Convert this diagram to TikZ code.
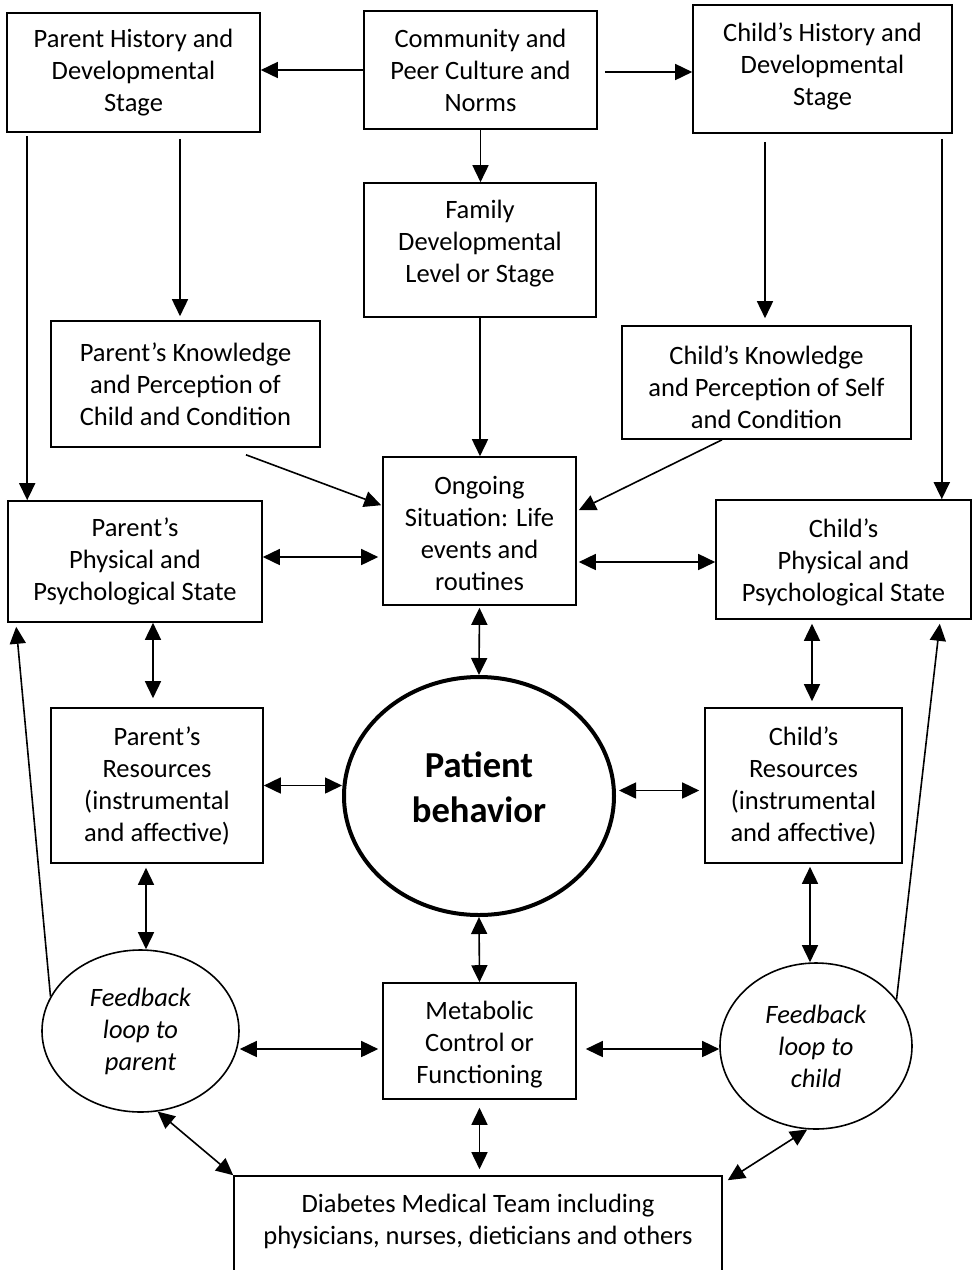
\documentclass[tikz,border=0pt]{standalone}
\usepackage{fontspec}
\setmainfont{Carlito}
\usetikzlibrary{shapes.geometric,arrows.meta,calc}
\begin{document}
\begin{tikzpicture}[x=1pt,y=-1pt,
 box/.style={draw,line width=1.6pt,rectangle,align=center,inner sep=0pt,font=\fontsize{26.5}{32}\selectfont},
 oval/.style={draw,line width=1.6pt,ellipse,align=center,inner sep=0pt,font=\fontsize{26.5}{32}\selectfont\itshape},
 txt/.style={align=center,inner sep=0pt,font=\fontsize{26.5}{32}\selectfont},
 tip/.style={Triangle[length=17pt,width=16pt]},
 arr/.style={line width=1.6pt,-{Triangle[length=17pt,width=16pt]}},
 dbl/.style={line width=1.6pt,{Triangle[length=17pt,width=16pt]}-{Triangle[length=17pt,width=16pt]}},
]
\path[use as bounding box,fill=white] (0,0) rectangle (972,1270);

\node[box,minimum width=253,minimum height=119] (ph) at (133.5,72.5) {Parent History and\\Developmental\\Stage};
\node[box,minimum width=233,minimum height=118] (cp) at (480.5,70) {Community and\\Peer Culture and\\Norms};
\node[box,minimum width=259,minimum height=128] (ch) at (822.5,69) {};
\node[txt] (cht) at (822.5,66) {Child’s History and\\Developmental\\Stage};
\node[box,minimum width=232,minimum height=134] (fd) at (480,250) {};
\node[txt] (fdt) at (480,243.5) {Family\\Developmental\\Level or Stage};
\node[box,minimum width=269,minimum height=126] (pk) at (185.5,384) {Parent’s Knowledge\\and Perception of\\Child and Condition};
\node[box,minimum width=289,minimum height=113] (ck) at (766.5,382.5) {};
\node[txt] (ckt) at (766.5,387) {Child’s Knowledge\\and Perception of Self\\and Condition};
\node[box,minimum width=193,minimum height=148] (os) at (479.5,531) {};
\node[txt] (ost) at (479.5,533.5) {Ongoing\\Situation: Life\\events and\\routines};
\node[box,minimum width=254,minimum height=121] (pp) at (135,561.5) {Parent’s\\Physical and\\Psychological State};
\node[box,minimum width=255,minimum height=119] (cps) at (843.5,559.5) {};
\node[txt] (cpst) at (843.5,562) {Child’s\\Physical and\\Psychological State};
\node[box,minimum width=212,minimum height=155] (pr) at (157,785.5) {Parent’s\\Resources\\(instrumental\\and affective)};
\node[box,minimum width=197,minimum height=155] (cr) at (803.5,785.5) {Child’s\\Resources\\(instrumental\\and affective)};
\node[draw,ellipse,line width=4pt,minimum width=270,minimum height=238,inner sep=0pt] (pb) at (479,796) {};
\node[align=center,inner sep=0pt,font=\fontsize{36.6}{45}\selectfont\bfseries] (pbt) at (479,787.5) {Patient\\behavior};
\node[oval,minimum width=197,minimum height=162] (fp) at (140.5,1031) {Feedback\\loop to\\parent};
\node[box,minimum width=193,minimum height=116] (mc) at (479.5,1041) {};
\node[txt] (mct) at (479.5,1044.5) {Metabolic\\Control or\\Functioning};
\node[oval,minimum width=192,minimum height=166] (fc) at (816,1046) {Feedback\\loop to\\child};
\node[box,minimum width=488,minimum height=97] (dt) at (478,1224.5) {};
\node[txt] (dtt) at (478,1221.5) {Diabetes Medical Team including\\physicians, nurses, dieticians and others};

% top row
\draw[arr] (cp.west) -- (cp.west -| ph.east);
\coordinate (a1) at ($(cp.east)+(7,2)$);
\draw[arr] (a1) -- (a1 -| ch.west);
\draw[arr] (cp.south) -- (cp.south |- fd.north);
\coordinate (a2) at ($(ph.south)+(46.5,6)$);
\draw[arr,shorten >=4pt] (a2) -- (a2 |- pk.north);
\coordinate (a3) at ($(ph.south west)+(21,3)$);
\draw[arr] (a3) -- (a3 |- pp.north);
\coordinate (a4) at ($(ch.south)+(-57.5,8)$);
\draw[arr,shorten >=7pt] (a4) -- (a4 |- ck.north);
\coordinate (a5) at ($(ch.south east)+(-11,5)$);
\draw[arr] (a5) -- (a5 |- cps.north);
\draw[arr] (fd.south) -- (fd.south |- os.north);
\draw[arr] ($(pk.south)+(60.5,7)$) -- ($(os.north west)+(-1,49)$);
\draw[arr] ($(ck.south)+(-44.5,0)$) -- ($(os.north east)+(2,54)$);

% middle
\coordinate (a6) at ($(pp.east)+(0,-4.5)$);
\draw[dbl,shorten >=4pt] (a6) -- (a6 -| os.west);
\coordinate (a7) at ($(os.east)+(2,31)$);
\draw[dbl] (a7) -- (a7 -| cps.west);
\draw[dbl,shorten <=2pt] (os.south) -- (pb.north);
\coordinate (a8) at ($(pp.south)+(18,0)$);
\draw[dbl,shorten >=9pt] (a8) -- (a8 |- pr.north);
\coordinate (a9) at ($(cps.south)+(-31.5,4)$);
\draw[dbl,shorten >=6pt] (a9) -- (a9 |- cr.north);
\draw[dbl] (pr.east) -- (pr.east -| pb.west);
\coordinate (a10) at ($(cr.west)+(0,5)$);
\draw[dbl,shorten <=3pt,shorten >=5pt] (pb.east |- a10) -- (a10);

% lower
\coordinate (a11) at ($(pr.south)+(-11,4)$);
\draw[dbl] (a11) -- (a11 |- fp.north);
\coordinate (a12) at ($(cr.south)+(6.5,3)$);
\draw[dbl] (a12) -- (a12 |- fc.north);
\draw[arr] (fp.159) -- ($(pp.south west)+(9,4)$);
\draw[arr] (fc.30) -- ($(cps.south east)+(-32,4)$);
\coordinate (a13) at ($(mc.west)+(-4,8)$);
\draw[dbl] (fp.east |- a13) -- (a13);
\coordinate (a14) at ($(mc.east)+(9,8)$);
\draw[dbl] (a14) -- (a14 -| fc.west);
\draw[dbl] (pb.south) -- (mc.north);
\coordinate (a15) at ($(mc.south)+(0,8)$);
\draw[dbl,shorten >=6pt] (a15) -- (a15 |- dt.north);
\draw[dbl] (fp.-78) -- (dt.north west);
\draw[dbl] (fc.-96) -- ($(dt.north east)+(5,5)$);
\end{tikzpicture}
\end{document}
